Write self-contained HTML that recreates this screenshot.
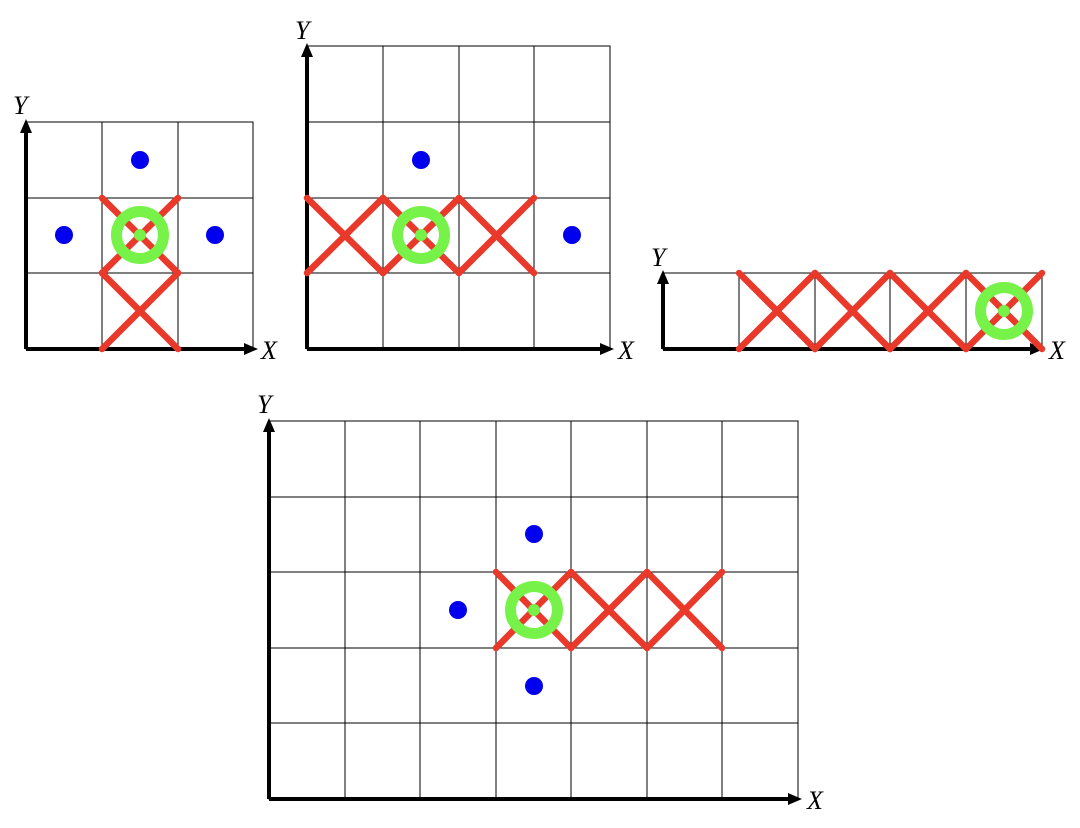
<!DOCTYPE html>
<html><head><meta charset="utf-8"><style>
html,body{margin:0;padding:0;background:#fff;width:1080px;height:828px;overflow:hidden}
text{font-family:"Liberation Serif",serif;font-style:italic;font-size:26px;fill:#000}
.g{stroke:#000;stroke-width:1;fill:none}
.ax{stroke:#000;stroke-width:4;fill:none}
.r{stroke:#e8392a;stroke-width:6.5;stroke-linecap:round}
.b{fill:#0000ee}
.ring{fill:none;stroke:#77f248;stroke-width:11}
.gd{fill:#77f248}
</style></head><body>
<svg width="1080" height="828" viewBox="0 0 1080 828" xmlns="http://www.w3.org/2000/svg">
<!-- Diagram 1 -->
<g class="g">
<rect x="26" y="122" width="227" height="227"/>
<line x1="102" y1="122" x2="102" y2="349"/><line x1="178" y1="122" x2="178" y2="349"/>
<line x1="26" y1="198" x2="253" y2="198"/><line x1="26" y1="273" x2="253" y2="273"/>
</g>
<line class="ax" x1="26" y1="349" x2="248" y2="349"/><polygon points="258,349 244,343 244,355"/>
<line class="ax" x1="26" y1="349" x2="26" y2="130"/><polygon points="26,119 20,133 32,133"/>
<text x="13" y="114">Y</text><text x="261" y="359">X</text>
<g class="r">
<line x1="102" y1="198" x2="178" y2="273"/><line x1="178" y1="198" x2="102" y2="273"/>
<line x1="102" y1="273" x2="178" y2="349"/><line x1="178" y1="273" x2="102" y2="349"/>
</g>
<circle class="b" cx="140" cy="160" r="9"/><circle class="b" cx="64" cy="235" r="9"/><circle class="b" cx="215" cy="235" r="9"/>
<circle class="ring" cx="140" cy="235" r="23.5"/><circle class="gd" cx="140" cy="235" r="6"/>

<!-- Diagram 2 -->
<g class="g">
<rect x="307" y="46" width="303" height="303"/>
<line x1="383" y1="46" x2="383" y2="349"/><line x1="459" y1="46" x2="459" y2="349"/><line x1="534" y1="46" x2="534" y2="349"/>
<line x1="307" y1="122" x2="610" y2="122"/><line x1="307" y1="198" x2="610" y2="198"/><line x1="307" y1="273" x2="610" y2="273"/>
</g>
<line class="ax" x1="307" y1="349" x2="604" y2="349"/><polygon points="614,349 600,343 600,355"/>
<line class="ax" x1="307" y1="349" x2="307" y2="54"/><polygon points="307,43 301,57 313,57"/>
<text x="295" y="39">Y</text><text x="618" y="359">X</text>
<g class="r">
<line x1="307" y1="198" x2="383" y2="273"/><line x1="383" y1="198" x2="307" y2="273"/>
<line x1="383" y1="198" x2="459" y2="273"/><line x1="459" y1="198" x2="383" y2="273"/>
<line x1="459" y1="198" x2="534" y2="273"/><line x1="534" y1="198" x2="459" y2="273"/>
</g>
<circle class="b" cx="421" cy="160" r="9"/><circle class="b" cx="572" cy="235" r="9"/>
<circle class="ring" cx="421" cy="235" r="23.5"/><circle class="gd" cx="421" cy="235" r="6"/>

<!-- Diagram 3 -->
<g class="g">
<rect x="663" y="273" width="379" height="76"/>
<line x1="739" y1="273" x2="739" y2="349"/><line x1="815" y1="273" x2="815" y2="349"/><line x1="890" y1="273" x2="890" y2="349"/><line x1="966" y1="273" x2="966" y2="349"/>
</g>
<line class="ax" x1="663" y1="349" x2="1034" y2="349"/><polygon points="1044,349 1030,343 1030,355"/>
<line class="ax" x1="663" y1="349" x2="663" y2="281"/><polygon points="663,270 657,284 669,284"/>
<text x="651" y="266">Y</text><text x="1049" y="359">X</text>
<g class="r">
<line x1="739" y1="273" x2="815" y2="349"/><line x1="815" y1="273" x2="739" y2="349"/>
<line x1="815" y1="273" x2="890" y2="349"/><line x1="890" y1="273" x2="815" y2="349"/>
<line x1="890" y1="273" x2="966" y2="349"/><line x1="966" y1="273" x2="890" y2="349"/>
<line x1="966" y1="273" x2="1042" y2="349"/><line x1="1042" y1="273" x2="966" y2="349"/>
</g>
<circle class="ring" cx="1004" cy="311" r="23.5"/><circle class="gd" cx="1004" cy="311" r="6"/>

<!-- Diagram 4 -->
<g class="g">
<rect x="269" y="421" width="529" height="378"/>
<line x1="345" y1="421" x2="345" y2="799"/><line x1="420" y1="421" x2="420" y2="799"/><line x1="496" y1="421" x2="496" y2="799"/>
<line x1="571" y1="421" x2="571" y2="799"/><line x1="647" y1="421" x2="647" y2="799"/><line x1="722" y1="421" x2="722" y2="799"/>
<line x1="269" y1="497" x2="798" y2="497"/><line x1="269" y1="572" x2="798" y2="572"/><line x1="269" y1="648" x2="798" y2="648"/><line x1="269" y1="723" x2="798" y2="723"/>
</g>
<line class="ax" x1="269" y1="799" x2="792" y2="799"/><polygon points="802,799 788,793 788,805"/>
<line class="ax" x1="269" y1="799" x2="269" y2="429"/><polygon points="269,418 263,432 275,432"/>
<text x="257" y="413">Y</text><text x="807" y="809">X</text>
<g class="r">
<line x1="496" y1="572" x2="571" y2="648"/><line x1="571" y1="572" x2="496" y2="648"/>
<line x1="571" y1="572" x2="647" y2="648"/><line x1="647" y1="572" x2="571" y2="648"/>
<line x1="647" y1="572" x2="722" y2="648"/><line x1="722" y1="572" x2="647" y2="648"/>
</g>
<circle class="b" cx="534" cy="534" r="9"/><circle class="b" cx="458" cy="610" r="9"/><circle class="b" cx="534" cy="686" r="9"/>
<circle class="ring" cx="534" cy="610" r="23.5"/><circle class="gd" cx="534" cy="610" r="6"/>
</svg>
</body></html>
